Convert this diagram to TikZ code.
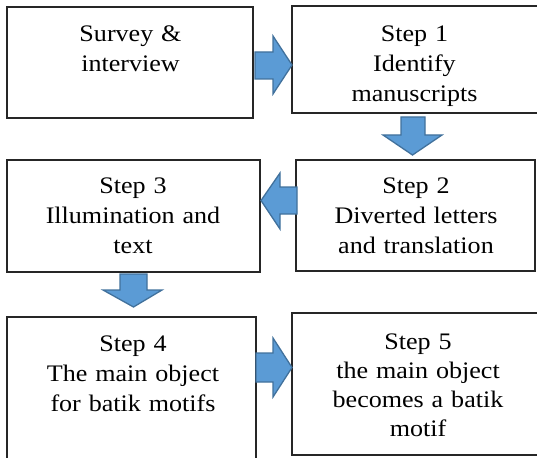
\documentclass[tikz,border=0pt]{standalone}
\usepackage{fontspec}
\setmainfont[FakeStretch=1.1]{Liberation Serif}
\definecolor{arrowfill}{HTML}{5B9BD5}
\definecolor{arrowline}{HTML}{41719C}
\definecolor{boxline}{HTML}{262626}
\tikzset{
  box/.style={draw=boxline, line width=1.3pt, fill=white, inner sep=0pt},
  txt/.style={anchor=base, text width=250pt, align=center, inner sep=0pt,
    font={\fontsize{23.7}{30}\selectfont}},
  blockarrow/.style={fill=arrowfill, draw=arrowline, line width=1.3pt, line join=miter}
}
\begin{document}
\begin{tikzpicture}[x=1pt,y=-1pt]
\useasboundingbox (0,0) rectangle (537,457);
\clip (0,0) rectangle (537,457);
% boxes
\node[box, minimum width=246pt, minimum height=111pt] (b0) at (130,62.5) {};
\node[box, minimum width=248pt, minimum height=107pt] (b1) at (416,59.5) {};
\node[box, minimum width=239pt, minimum height=111pt] (b2) at (415.5,215.5) {};
\node[box, minimum width=253pt, minimum height=112pt] (b3) at (133.5,216) {};
\node[box, minimum width=249pt, minimum height=146pt] (b4) at (131.5,390) {};
\node[box, minimum width=253pt, minimum height=142pt] (b5) at (418.5,384) {};
% texts
\node[txt] (t0) at (130.5,42) {Survey \&\\interview};
\node[txt] (t1) at (414.5,42) {Step 1\\Identify\\manuscripts};
\node[txt] (t2) at (416,193) {Step 2\\Diverted letters\\and translation};
\node[txt] (t3) at (133,193) {Step 3\\Illumination and\\text};
\node[txt] (t4) at (133,351) {Step 4\\The main object\\for batik motifs};
\node[txt, font={\fontsize{23.7}{29.3}\selectfont}] (t5) at (418,349) {Step 5\\the main object\\becomes a batik\\motif};
% block arrows
\draw[blockarrow] (255,52) -- (273,52) -- (273,36) -- (292,65) -- (273,94) -- (273,79) -- (255,79) -- cycle;
\draw[blockarrow] (401,117) -- (425,117) -- (425,135) -- (442,135) -- (412.5,155) -- (383,135) -- (401,135) -- cycle;
\draw[blockarrow] (297,187) -- (280,187) -- (280,173) -- (261,200.5) -- (280,229) -- (280,214) -- (297,214) -- cycle;
\draw[blockarrow] (120,274) -- (147,274) -- (147,290) -- (162,290) -- (133.5,307) -- (103,290) -- (120,290) -- cycle;
\draw[blockarrow] (256,353) -- (273,353) -- (273,338) -- (292,367.5) -- (273,397) -- (273,382) -- (256,382) -- cycle;
\end{tikzpicture}
\end{document}
